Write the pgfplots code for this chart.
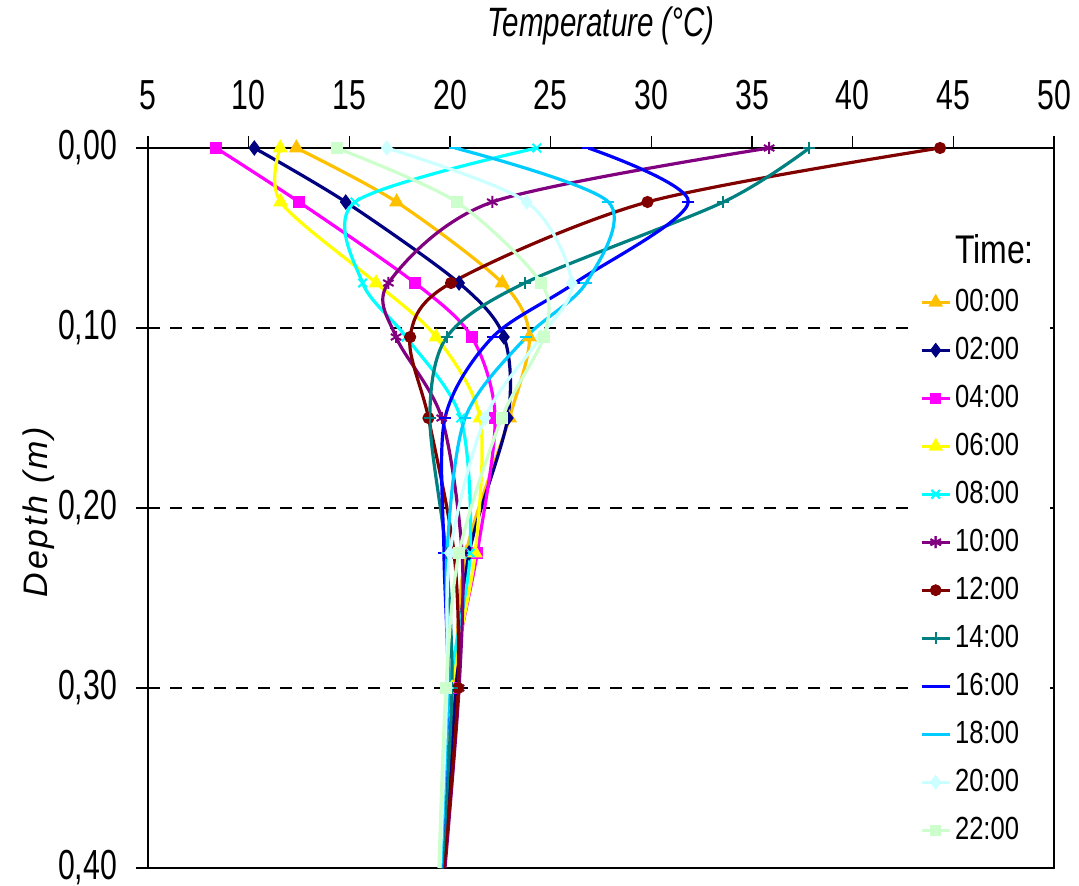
\documentclass[border=0pt]{standalone}
\usepackage{fontspec}
\setmainfont{Liberation Sans}
\newfontfamily\tickfont[FakeStretch=0.72]{Liberation Sans}
\newfontfamily\legfont[FakeStretch=0.8]{Liberation Sans}
\newfontfamily\depthfont[LetterSpace=8]{Liberation Sans}
\usepackage{pgfplots}
\usepackage{pgfplotstable}
\pgfplotsset{compat=1.18}
\definecolor{c00}{HTML}{FFC000}
\definecolor{c02}{HTML}{000080}
\definecolor{c04}{HTML}{FF00FF}
\definecolor{c06}{HTML}{FFFF00}
\definecolor{c08}{HTML}{00FFFF}
\definecolor{c10}{HTML}{800080}
\definecolor{c12}{HTML}{800000}
\definecolor{c14}{HTML}{008080}
\definecolor{c16}{HTML}{0000FF}
\definecolor{c18}{HTML}{00CCFF}
\definecolor{c20}{HTML}{CCFFFF}
\definecolor{c22}{HTML}{CCFFCC}
\pgfplotstableread{
depth t00 t02 t04 t06 t08 t10 t12 t14 t16 t18 t20 t22
0     12.37 10.28 8.38 11.57 24.31 35.85 44.34 37.85 26.87 20.25 16.86 14.37
0.03  17.35 14.82 12.50 11.59 15.28 22.10 29.81 33.58 31.84 27.87 23.81 20.33
0.075 22.60 20.45 18.26 16.33 15.66 16.94 20.05 23.71 26.20 26.76 26.05 24.53
0.105 23.94 22.68 21.08 19.31 17.82 17.32 18.02 19.84 22.12 23.79 24.50 24.65
0.15  22.95 22.87 22.24 21.49 20.53 19.59 18.93 19.00 19.75 20.75 21.74 22.57
0.225 20.80 20.95 21.35 21.25 21.00 20.60 20.20 19.80 19.70 19.85 20.00 20.45
0.30  20.20 20.30 20.10 20.10 20.00 20.45 20.40 20.10 19.90 19.90 19.85 19.80
0.40  19.60 19.65 19.65 19.60 19.55 19.75 19.70 19.60 19.55 19.55 19.50 19.45
}\data
\begin{document}
\begin{tikzpicture}[x=1pt,y=1pt]
\useasboundingbox (-74,-9) rectangle (465.5,434);
\begin{axis}[
  at={(226.5pt,180pt)}, anchor=center,
  scale only axis, width=453pt, height=360pt,
  xmin=5, xmax=50, ymin=0, ymax=0.4,
  y dir=reverse,
  xtick={5,10,...,50},
  ytick={0,0.1,0.2,0.3,0.4},
  yticklabels={{0,00},{0,10},{0,20},{0,30},{0,40}},
  xtick pos=right, xticklabel pos=right, ytick pos=left,
  tick align=outside,
  major tick length=6pt,
  tick style={black, line width=0.7pt},
  axis line style={black, line width=0.9pt},
  ymajorgrids,
  major grid style={black, line width=0.6pt, dash pattern=on 6pt off 5pt},
  /pgf/number format/assume math mode=true,
  ticklabel style={font=\tickfont\fontsize{21}{22}\selectfont},
  yticklabel style={xshift=-6pt},
  xticklabel style={yshift=9.5pt},
  legend style={draw=none, fill=white, at={(0.987,0.885)}, anchor=north east,
    inner sep=2pt,
    row sep=5pt,
    nodes={inner sep=2pt, text height=12pt, text depth=3pt, anchor=west},
    font=\legfont\fontsize{16}{18}\selectfont},
  legend cell align=left,
  legend image code/.code={\draw[#1, line width=1.3pt] plot coordinates {(0pt,0pt)};
     \draw[#1, line width=1.3pt, mark=none] (-7pt,0pt) -- (7pt,0pt);
     \draw[#1, line width=1.3pt] plot coordinates {(0pt,0pt)};},
  every axis plot/.append style={smooth, tension=0.5, line width=1.6pt, mark indices={1,...,7}},
]
\addlegendimage{empty legend}
\addlegendentry{\legfont\fontsize{20}{22}\selectfont Time:}
\addplot[c00, mark=triangle*, mark size=2.8pt, mark options={solid}] table[x=t00,y=depth]{\data};
\addlegendentry{00:00}
\addplot[c02, mark=diamond*, mark size=2.6pt, mark options={solid}] table[x=t02,y=depth]{\data};
\addlegendentry{02:00}
\addplot[c04, mark=square*, mark size=2.2pt, mark options={solid}] table[x=t04,y=depth]{\data};
\addlegendentry{04:00}
\addplot[c06, mark=triangle*, mark size=2.8pt, mark options={solid}] table[x=t06,y=depth]{\data};
\addlegendentry{06:00}
\addplot[c08, mark=x, mark size=3pt, mark options={solid, line width=1pt}] table[x=t08,y=depth]{\data};
\addlegendentry{08:00}
\addplot[c10, mark=asterisk, mark size=3pt, mark options={solid, line width=1pt}] table[x=t10,y=depth]{\data};
\addlegendentry{10:00}
\addplot[c12, mark=*, mark size=2.2pt, mark options={solid}] table[x=t12,y=depth]{\data};
\addlegendentry{12:00}
\addplot[c14, mark=+, mark size=3pt, mark options={solid, line width=1pt}] table[x=t14,y=depth]{\data};
\addlegendentry{14:00}
\addplot[c16, mark=-, mark size=3pt, mark options={solid, line width=1.2pt}] table[x=t16,y=depth]{\data};
\addlegendentry{16:00}
\addplot[c18, mark=-, mark size=3pt, mark options={solid, line width=1.2pt}] table[x=t18,y=depth]{\data};
\addlegendentry{18:00}
\addplot[c20, mark=diamond*, mark size=2.6pt, mark options={solid}] table[x=t20,y=depth]{\data};
\addlegendentry{20:00}
\addplot[c22, mark=square*, mark size=2.2pt, mark options={solid}] table[x=t22,y=depth]{\data};
\addlegendentry{22:00}
\end{axis}
\node[font=\tickfont\itshape\fontsize{20.5}{22}\selectfont] at (226.5,421) {Temperature (°C)};
\node[font=\depthfont\itshape\fontsize{17}{19}\selectfont, rotate=90] at (-54.5,178) {Depth (m)};
\end{tikzpicture}
\end{document}
